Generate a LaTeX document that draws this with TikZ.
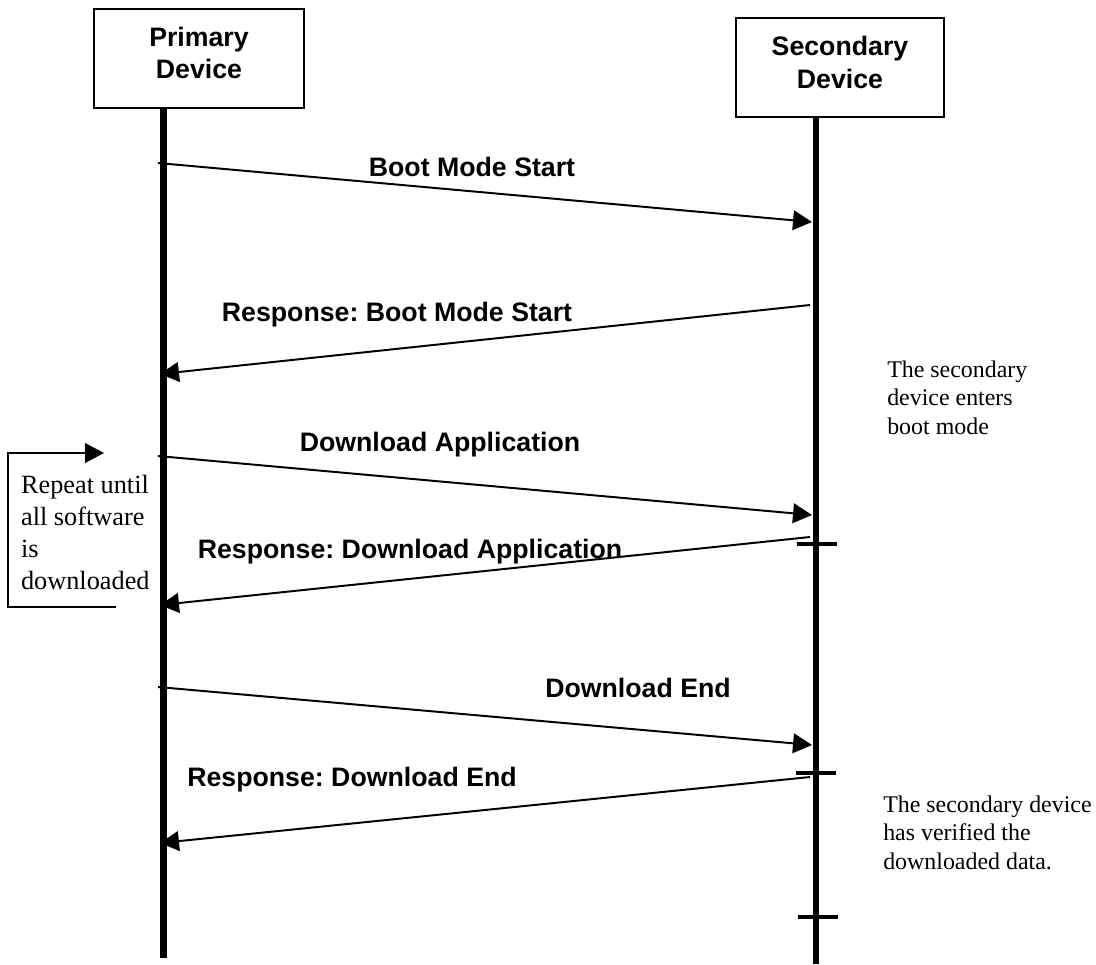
\documentclass[tikz,border=0pt]{standalone}
\usepackage{fontspec}
\setmainfont{Liberation Serif}
\setsansfont{Liberation Sans}
\usepackage{tikz}
\usetikzlibrary{arrows.meta}
\frenchspacing

\begin{document}
\begin{tikzpicture}[
        devbox/.style={rectangle, draw, line width=1pt, minimum width=5.25cm, minimum height=2.475cm},
        devname/.style={align=center, inner sep=0pt, font=\sffamily\bfseries\fontsize{19}{23}\selectfont},
        lifeline/.style={line width=4.8pt},
        msg/.style={-{Triangle[length=13.5pt, width=14pt]}, line width=1.4pt},
        msglabel/.style={inner sep=0pt, font=\sffamily\bfseries\fontsize{19}{23}\selectfont},
        note/.style={align=left, anchor=north west, inner sep=0pt, font=\fontsize{17}{20}\selectfont},
        tickmark/.style={line width=3.5pt},
        repeatline/.style={-{Triangle[length=13.5pt, width=14pt]}, line width=1.2pt}
    ]
        \useasboundingbox (0,0) rectangle (27.4,-24.1);

        % Devices
        \node[devbox] (primary) at (4.975,-1.4625) {};
        \node[devname] (primary-name) at (4.975,-1.325) {Primary\\Device};
        \node[devbox, minimum width=5.2cm] (secondary) at (21.0,-1.6875) {};
        \node[devname] (secondary-name) at (21.0,-1.5625) {Secondary\\Device};

        % Lifelines
        \coordinate (p-bot) at (4.09,-23.95);
        \coordinate (s-bot) at (20.4,-24.1);
        \draw[lifeline] (primary.south -| p-bot) -- (p-bot);
        \draw[lifeline] (secondary.south -| s-bot) -- (s-bot);

        % Message end points
        \coordinate (m1a) at (3.95,-4.075);  \coordinate (m1b) at (20.3,-5.55);
        \coordinate (m2a) at (20.25,-7.625); \coordinate (m2b) at (4.0,-9.35);
        \coordinate (m3a) at (3.95,-11.4);   \coordinate (m3b) at (20.3,-12.875);
        \coordinate (m4a) at (20.25,-13.425);\coordinate (m4b) at (4.0,-15.125);
        \coordinate (m5a) at (3.95,-17.175); \coordinate (m5b) at (20.3,-18.625);
        \coordinate (m6a) at (20.25,-19.425);\coordinate (m6b) at (4.0,-21.075);

        % Messages
        \draw[msg] (m1a) -- (m1b);
        \draw[msg] (m2a) -- (m2b);
        \draw[msg] (m3a) -- (m3b);
        \draw[msg] (m4a) -- (m4b);
        \draw[msg] (m5a) -- (m5b);
        \draw[msg] (m6a) -- (m6b);

        \node[msglabel] (l1) at (11.8,-4.175) {Boot Mode Start};
        \node[msglabel] (l2) at (9.925,-7.875) {Response: Boot Mode Start};
        \node[msglabel] (l3) at (11.0,-11.125) {Download Application};
        \node[msglabel] (l4) at (10.25,-13.8) {Response: Download Application};
        \node[msglabel] (l5) at (15.95,-17.19) {Download End};
        \node[msglabel] (l6) at (8.8,-19.5) {Response: Download End};

        % Ticks on the secondary lifeline
        \draw[tickmark] (19.925,-13.6) -- (20.925,-13.6);
        \draw[tickmark] (19.9,-19.325) -- (20.9,-19.325);
        \draw[tickmark] (19.95,-22.925) -- (20.95,-22.925);

        % Notes
        \node[note] (note1) at (22.175,-9.025) {The secondary\\device enters\\boot mode};
        \node[note] (note2) at (22.075,-19.9) {The secondary device\\has verified the\\downloaded data.};

        % Repeat loop
        \coordinate (rep-end) at (2.9,-15.175);
        \coordinate (rep-corner) at (0.2,-11.325);
        \coordinate (rep-tip) at (2.6,-11.325);
        \draw[repeatline] (rep-end) -| (rep-corner) -- (rep-tip);
        \node[note, font=\fontsize{18.7}{22.8}\selectfont] (repeat) at (0.52,-11.875) {Repeat until\\all software\\is\\downloaded};
    \end{tikzpicture}
\end{document}
